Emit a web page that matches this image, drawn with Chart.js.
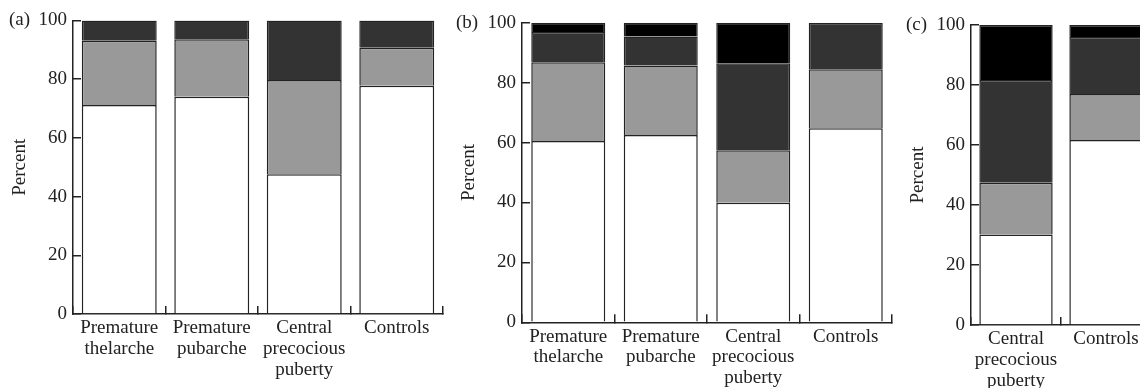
<!DOCTYPE html>
<html><head><meta charset="utf-8">
<script src="https://cdn.jsdelivr.net/npm/chart.js@4"></script>
<style>
html,body{margin:0;padding:0;background:#fff;overflow:hidden;width:1140px;height:388px;position:relative;}
canvas{position:absolute;top:0;}
</style></head><body>
<canvas id="ca" width="450" height="388" style="left:0px"></canvas>
<canvas id="cb" width="450" height="388" style="left:450px"></canvas>
<canvas id="cc" width="260" height="388" style="left:900px"></canvas>
<script>
// ---- data ----
const categoriesA = [['Premature','thelarche'],['Premature','pubarche'],['Central','precocious','puberty'],['Controls']];
const whiteA = [71.2, 74.0, 47.6, 77.8];
const lightA = [21.9, 19.6, 32.1, 12.9];
const darkA  = [6.9, 6.4, 20.3, 9.3];

const categoriesB = [['Premature','thelarche'],['Premature','pubarche'],['Central','precocious','puberty'],['Controls']];
const whiteB = [60.5, 62.5, 39.9, 64.8];
const lightB = [26.3, 23.2, 17.5, 19.7];
const darkB  = [10.1, 9.7, 29.1, 15.5];
const blackB = [3.1, 4.6, 13.5, 0];

const categoriesC = [['Central','precocious','puberty'],['Controls']];
const whiteC = [30.2, 61.7];
const lightC = [17.2, 15.3];
const darkC  = [34.3, 19.0];
const blackC = [18.3, 4.0];

const yTickValues = [0, 20, 40, 60, 80, 100];
const panelLabels = ['(a)', '(b)', '(c)'];
const yTitle = 'Percent';

// ---- styles ----
const FONT = '"Liberation Serif", "DejaVu Serif", serif';
const FS = 19;
const INK = '#222222';
const fills = ['#ffffff', '#999999', '#333333', '#000000'];
Chart.defaults.font.family = FONT;
Chart.defaults.font.size = FS;
Chart.defaults.color = INK;

const panelLabelPlugin = {
  id: 'panelLabel',
  afterDraw(chart, args, o) {
    const ys = chart.scales.y;
    const ctx = chart.ctx;
    ctx.save();
    ctx.font = FS + 'px ' + FONT;
    ctx.fillStyle = INK;
    ctx.textAlign = 'left';
    ctx.textBaseline = 'middle';
    ctx.fillText(o.text, ys.left + o.x, ys.getPixelForValue(yTickValues[yTickValues.length - 1]));
    ctx.restore();
  }
};

function makePanel(id, cats, series, cfg) {
  const datasets = series.map((d, i) => ({
    data: d,
    backgroundColor: fills[i],
    borderColor: INK,
    borderWidth: { top: 1.5, left: 1.5, right: 1.5, bottom: 0 },
    borderSkipped: false,
    inflateAmount: 0,
    barPercentage: cfg.barPct,
    categoryPercentage: 1
  }));
  return new Chart(document.getElementById(id), {
    type: 'bar',
    data: { labels: cats, datasets },
    plugins: [panelLabelPlugin],
    options: {
      responsive: false,
      animation: false,
      events: [],
      layout: { padding: { top: cfg.padTop, right: cfg.padRight, left: 0, bottom: 0 } },
      plugins: {
        legend: { display: false },
        tooltip: { enabled: false },
        panelLabel: { text: cfg.label, x: cfg.labelX }
      },
      scales: {
        x: {
          stacked: true,
          offset: true,
          grid: { offset: true, drawOnChartArea: false, drawTicks: true, tickLength: -8, color: INK, lineWidth: 1.5 },
          border: { color: INK, width: 1.5 },
          ticks: { padding: 12, maxRotation: 0, autoSkip: false, font: { size: FS, lineHeight: 1.09 } },
          afterFit: s => { s.height = cfg.xHeight; s.paddingLeft = 0; s.paddingRight = 0; }
        },
        y: {
          stacked: true,
          min: 0, max: 100,
          afterBuildTicks: s => { s.ticks = yTickValues.map(v => ({ value: v })); },
          grid: { drawOnChartArea: false, drawTicks: true, tickLength: -8, color: INK, lineWidth: 1.5 },
          border: { color: INK, width: 1.5 },
          ticks: { padding: 14, font: { size: FS } },
          title: { display: true, text: yTitle, font: { size: FS, lineHeight: 1.2 }, padding: { top: cfg.titlePad, bottom: 0 } },
          afterFit: s => { s.width = cfg.yWidth; s.paddingTop = 0; s.paddingBottom = 0; }
        }
      }
    }
  });
}

makePanel('ca', categoriesA, [whiteA, lightA, darkA],
  { padTop: 20.5, padRight: 7, xHeight: 74, yWidth: 73, barPct: 0.81, label: panelLabels[0], labelX: 9, titlePad: 9 });
makePanel('cb', categoriesB, [whiteB, lightB, darkB, blackB],
  { padTop: 22.7, padRight: 8, xHeight: 65.7, yWidth: 72, barPct: 0.8, label: panelLabels[1], labelX: 6, titlePad: 8 });
makePanel('cc', categoriesC, [whiteC, lightC, darkC, blackC],
  { padTop: 25, padRight: 9, xHeight: 63, yWidth: 71, barPct: 0.815, label: panelLabels[2], labelX: 6, titlePad: 7 });
</script>
</body></html>
